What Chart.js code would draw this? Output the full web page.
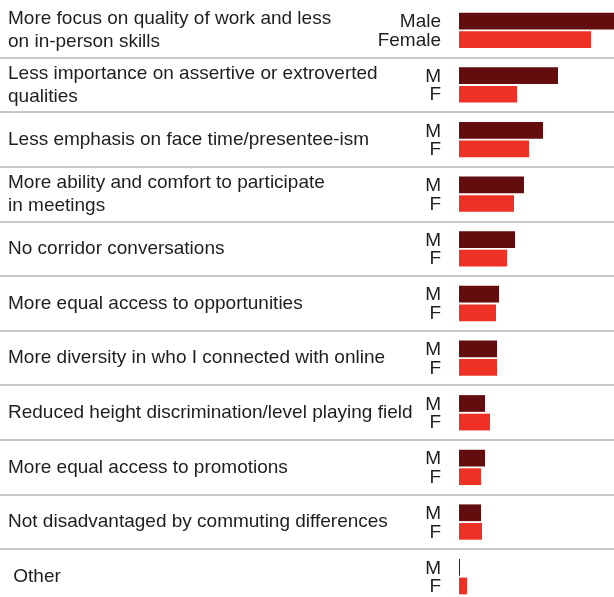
<!DOCTYPE html>
<html>
<head>
<meta charset="utf-8">
<script src="https://cdn.jsdelivr.net/npm/chart.js@4/dist/chart.umd.min.js"></script>
<style>
  html, body { margin: 0; padding: 0; overflow: hidden; background: #fff; }
  #wrap { width: 614px; height: 605px; }
</style>
</head>
<body>
<div id="wrap"><canvas id="chart"></canvas></div>
<script>
// Categories (multi-line where the label wraps)
const categories = [
    ['More focus on quality of work and less', 'on in-person skills'],
    ['Less importance on assertive or extroverted', 'qualities'],
    'Less emphasis on face time/presentee-ism',
    ['More ability and comfort to participate', 'in meetings'],
    'No corridor conversations',
    'More equal access to opportunities',
    'More diversity in who I connected with online',
    'Reduced height discrimination/level playing field',
    'More equal access to promotions',
    'Not disadvantaged by commuting differences',
    ' Other'
];

// Share of respondents, %
const maleValues   = [31, 19.8, 16.8, 13, 11.2, 8, 7.6, 5.2, 5.2, 4.4, 0.2];
const femaleValues = [26.4, 11.6, 14, 11, 9.6, 7.4, 7.6, 6.2, 4.4, 4.6, 1.6];

// Bar labels: full words on the first row, initials after that
const seriesNames = ['Male', 'Female'];
const seriesShort = ['M', 'F'];

const fontFamily = '"Liberation Sans", Arial, sans-serif';

// Draws the separators between groups and the M/F labels beside each bar
const rowDecor = {
    id: 'rowDecor',
    beforeDatasetsDraw(chart) {
        const ctx = chart.ctx;
        const y = chart.scales.y;
        ctx.save();
        ctx.strokeStyle = '#b4b4b4';
        ctx.lineWidth = 1.6;
        for (let i = 1; i < categories.length; i++) {
            const yy = Math.round((y.getPixelForTick(i - 1) + y.getPixelForTick(i)) / 2);
            ctx.beginPath();
            ctx.moveTo(0, yy);
            ctx.lineTo(chart.width, yy);
            ctx.stroke();
        }
        ctx.restore();
    },
    afterDatasetsDraw(chart) {
        const ctx = chart.ctx;
        const x = chart.chartArea.left - 18;
        ctx.save();
        ctx.font = '19px ' + fontFamily;
        ctx.fillStyle = '#1e1e1e';
        ctx.textAlign = 'right';
        ctx.textBaseline = 'middle';
        chart.data.datasets.forEach((ds, di) => {
            chart.getDatasetMeta(di).data.forEach((bar, i) => {
                const txt = i === 0 ? seriesNames[di] : seriesShort[di];
                ctx.fillText(txt, x, bar.y + 1);
            });
        });
        ctx.restore();
    }
};

const ctx = document.getElementById('chart').getContext('2d');
new Chart(ctx, {
    type: 'bar',
    data: {
        labels: categories,
        datasets: [
            {
                label: seriesNames[0],
                data: maleValues,
                backgroundColor: '#630d0e',
                borderWidth: 0
            },
            {
                label: seriesNames[1],
                data: femaleValues,
                backgroundColor: '#ee3124',
                borderWidth: 0
            }
        ]
    },
    options: {
        indexAxis: 'y',
        responsive: true,
        maintainAspectRatio: false,
        animation: false,
        categoryPercentage: 0.68,
        barPercentage: 0.9,
        layout: { padding: { left: 8, right: 0, top: 3, bottom: 1 } },
        plugins: {
            legend: { display: false },
            tooltip: { enabled: false }
        },
        scales: {
            x: {
                display: false,
                min: 0,
                max: 31
            },
            y: {
                grid: { display: false },
                border: { display: false },
                afterFit(scale) {
                    scale.width = 451;
                    // labels fit inside their rows, no extra room needed
                    scale.paddingTop = 0;
                    scale.paddingBottom = 0;
                },
                ticks: {
                    autoSkip: false,
                    crossAlign: 'far',
                    color: '#1e1e1e',
                    font: { family: fontFamily, size: 19, lineHeight: 1.2 }
                }
            }
        }
    },
    plugins: [rowDecor]
});
</script>
</body>
</html>
